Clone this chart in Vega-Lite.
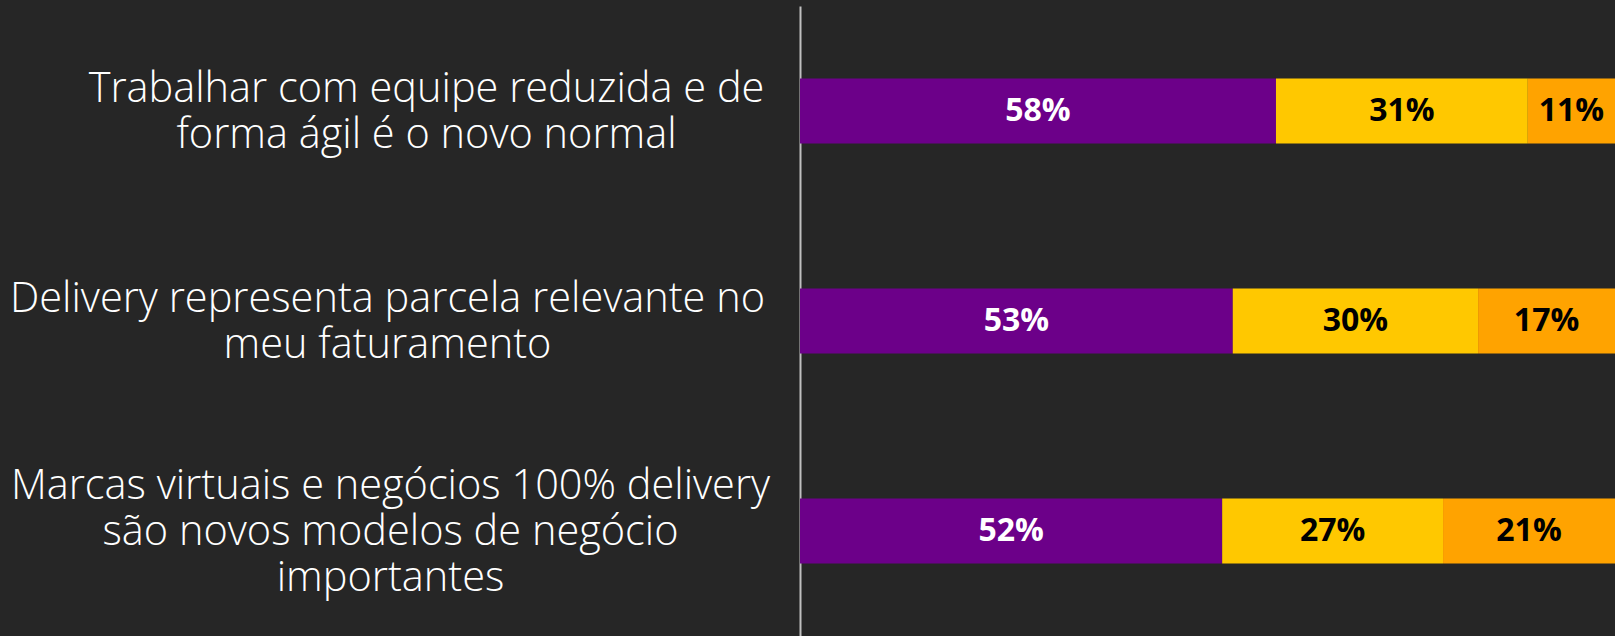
{
  "$schema": "https://vega.github.io/schema/vega-lite/v6.json",
  "width": 815,
  "height": 630,
  "autosize": {"type": "none"},
  "padding": {"left": 800, "top": 6, "right": 0, "bottom": 0},
  "background": "#262626",
  "config": {"view": {"stroke": null}},
  "data": {
    "values": [
      {"item": "Trabalhar com equipe reduzida e de|forma ágil é o novo normal", "resp": "A", "k": 1, "pct": 0.584},
      {"item": "Trabalhar com equipe reduzida e de|forma ágil é o novo normal", "resp": "B", "k": 2, "pct": 0.309},
      {"item": "Trabalhar com equipe reduzida e de|forma ágil é o novo normal", "resp": "C", "k": 3, "pct": 0.107},
      {"item": "Delivery representa parcela relevante no|meu faturamento", "resp": "A", "k": 1, "pct": 0.531},
      {"item": "Delivery representa parcela relevante no|meu faturamento", "resp": "B", "k": 2, "pct": 0.301},
      {"item": "Delivery representa parcela relevante no|meu faturamento", "resp": "C", "k": 3, "pct": 0.168},
      {"item": "Marcas virtuais e negócios 100% delivery|são novos modelos de negócio|importantes", "resp": "A", "k": 1, "pct": 0.518},
      {"item": "Marcas virtuais e negócios 100% delivery|são novos modelos de negócio|importantes", "resp": "B", "k": 2, "pct": 0.271},
      {"item": "Marcas virtuais e negócios 100% delivery|são novos modelos de negócio|importantes", "resp": "C", "k": 3, "pct": 0.211}
    ]
  },
  "encoding": {
    "y": {
      "field": "item",
      "type": "nominal",
      "sort": [
        "Trabalhar com equipe reduzida e de|forma ágil é o novo normal",
        "Delivery representa parcela relevante no|meu faturamento",
        "Marcas virtuais e negócios 100% delivery|são novos modelos de negócio|importantes"
      ],
      "scale": {"paddingInner": 0.69, "paddingOuter": 0.345},
      "axis": {
        "title": null,
        "domain": true,
        "domainColor": "#c0c0c0",
        "domainWidth": 2,
        "ticks": false,
        "labelExpr": "split(datum.label, '|')",
        "labelAlign": "center",
        "labelBaseline": "middle",
        "labelFont": "Open Sans",
        "labelFontWeight": 300,
        "labelFontSize": 41.5,
        "labelLineHeight": 46,
        "labelColor": "#ffffff",
        "labelLimit": 0,
        "labelOverlap": false,
        "labelOffset": {"expr": "-(length(split(datum.value, '|')) - 1) * 23 + 1.5"},
        "labelPadding": {"expr": "indexof(datum.value, 'Trabalhar') >= 0 ? 374 : (indexof(datum.value, 'Delivery') == 0 ? 413 : 410)"}
      }
    }
  },
  "layer": [
    {
      "mark": {"type": "bar"},
      "encoding": {
        "x": {"field": "pct", "type": "quantitative", "stack": "zero", "scale": {"domain": [0, 1]}, "axis": null},
        "color": {
          "field": "resp",
          "type": "nominal",
          "scale": {"domain": ["A", "B", "C"], "range": ["#6c0089", "#ffc800", "#ffa300"]},
          "legend": null
        },
        "order": {"field": "k"}
      }
    },
    {
      "mark": {"type": "text", "font": "Open Sans", "fontWeight": "bold", "fontSize": 32, "baseline": "middle", "align": "center"},
      "encoding": {
        "x": {"field": "pct", "type": "quantitative", "stack": "zero", "bandPosition": 0.5},
        "detail": {"field": "resp"},
        "order": {"field": "k"},
        "text": {"field": "pct", "type": "quantitative", "format": ".0%"},
        "color": {"condition": {"test": "datum.resp === 'A'", "value": "#ffffff"}, "value": "#000000"}
      }
    }
  ]
}
